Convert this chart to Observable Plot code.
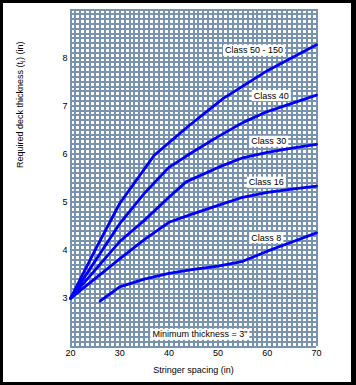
<!DOCTYPE html>
<html>
<head>
<meta charset="utf-8">
<script src="https://cdn.jsdelivr.net/npm/d3@7"></script>
<script src="https://cdn.jsdelivr.net/npm/@observablehq/plot@0.6"></script>
<style>
  html, body { margin: 0; padding: 0; background: white; }
  #wrap { position: relative; width: 356px; height: 385px; overflow: hidden; }
  #frame { position: absolute; left: 0; top: 0; width: 356px; height: 385px; box-sizing: border-box;
           border-style: solid; border-color: #000; border-width: 3px 5px 3px 3px; pointer-events: none; }
  #chart { position: absolute; left: 0; top: 0; }
</style>
</head>
<body>
<div id="wrap"><div id="chart"></div><div id="frame"></div></div>
<script>
// ---- data ----
const seriesNames = ["Class 50 - 150", "Class 40", "Class 30", "Class 16", "Class 8"];
const class150X = [20, 25, 30, 37, 44, 51, 60, 70];
const class150Y = [3, 4.0, 4.97, 5.97, 6.58, 7.15, 7.73, 8.27];
const class40X = [20, 30, 35, 40, 45, 50, 55, 60, 65, 70];
const class40Y = [3, 4.55, 5.18, 5.72, 6.05, 6.36, 6.65, 6.88, 7.05, 7.22];
const class30X = [20, 30, 35, 40, 43.5, 50, 55, 60, 65, 70];
const class30Y = [3, 4.18, 4.62, 5.1, 5.42, 5.72, 5.92, 6.03, 6.12, 6.2];
const class16X = [20, 30, 35, 40, 45, 50, 55, 60, 65, 70];
const class16Y = [3, 3.82, 4.22, 4.58, 4.76, 4.93, 5.1, 5.2, 5.27, 5.33];
const class8X = [26, 30, 35, 40, 45, 50, 55, 60, 65, 70];
const class8Y = [2.94, 3.24, 3.4, 3.52, 3.6, 3.67, 3.77, 3.98, 4.17, 4.36];

const labelTexts = ["Class 50 - 150", "Class 40", "Class 30", "Class 16", "Class 8", "Minimum thickness = 3\""];
const labelX = [57.3, 60.8, 60.3, 59.8, 59.8, 46.3];
const labelY = [8.15, 7.21, 6.26, 5.41, 4.26, 2.25];

const xTicks = [20, 30, 40, 50, 60, 70];
const yTicks = [3, 4, 5, 6, 7, 8];
const xTitle = "Stringer spacing (in)";
const yTitle = "Required deck thickness (t\u2C7C) (in)";

// ---- build tables ----
const seriesX = [class150X, class40X, class30X, class16X, class8X];
const seriesY = [class150Y, class40Y, class30Y, class16Y, class8Y];
const points = [];
seriesNames.forEach((name, i) => {
  seriesX[i].forEach((x, j) => points.push({cls: name, x, y: seriesY[i][j]}));
});
const labels = labelTexts.map((t, i) => ({t, x: labelX[i], y: labelY[i]}));

const gridX = d3.range(20, 71, 1);
const gridY = d3.range(20, 91, 1).map(d => d / 10);
const gridColor = "#7a93ad";

const plot = Plot.plot({
  width: 356,
  height: 385,
  marginLeft: 70,
  marginRight: 40,
  marginTop: 9,
  marginBottom: 39,
  style: {background: "white", fontFamily: "'Liberation Sans', Arial, sans-serif", fontSize: "9px", color: "black"},
  x: {domain: [20, 70], ticks: xTicks, tickSize: 0, tickPadding: 3, tickFormat: d => String(d), label: null},
  y: {domain: [2, 9], ticks: yTicks, tickSize: 0, tickPadding: 3, tickFormat: d => String(d), label: null},
  marks: [
    Plot.ruleX(gridX, {stroke: gridColor, strokeWidth: 2, shapeRendering: "crispEdges"}),
    Plot.ruleY(gridY, {stroke: gridColor, strokeWidth: 2, shapeRendering: "crispEdges"}),
    Plot.line(points, {x: "x", y: "y", z: "cls", stroke: "#0000f5", strokeWidth: 2.8, strokeLinejoin: "round"}),
    Plot.text(labels, {x: "x", y: "y", text: "t", fill: "black", fontSize: 9}),
    Plot.text([xTitle], {text: d => d, frameAnchor: "bottom", dy: 26, fontSize: 9}),
    Plot.text([yTitle], {text: d => d, frameAnchor: "left", rotate: -90, dx: -50, dy: -10, fontSize: 9})
  ]
});
document.getElementById("chart").appendChild(plot);

// white boxes behind annotation labels
plot.querySelectorAll("text").forEach(t => {
  if (!labelTexts.includes(t.textContent)) return;
  const b = t.getBBox();
  const r = document.createElementNS("http://www.w3.org/2000/svg", "rect");
  r.setAttribute("x", b.x - 2);
  r.setAttribute("y", b.y - 0.5);
  r.setAttribute("width", b.width + 4);
  r.setAttribute("height", b.height + 1);
  r.setAttribute("fill", "white");
  const tr = t.getAttribute("transform");
  if (tr) r.setAttribute("transform", tr);
  t.parentNode.insertBefore(r, t);
});
</script>
</body>
</html>
